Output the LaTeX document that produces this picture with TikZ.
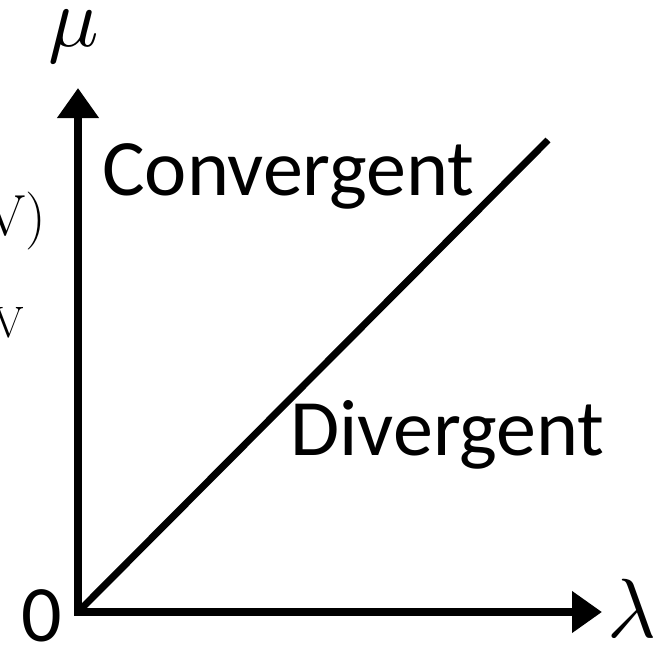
\documentclass[tikz,border=0pt]{standalone}
\usepackage{fontspec}
\newfontfamily\cfont{Carlito}
\usetikzlibrary{arrows.meta}
\tikzset{
  axis/.style={line width=8pt, line join=miter, {Triangle[length=30pt,width=40pt]}-{Triangle[length=30pt,width=40pt]}},
  diag/.style={line width=7pt},
  big/.style={inner sep=0pt, font=\cfont\fontsize{80}{90}\selectfont},
  mathlbl/.style={inner sep=0pt, scale=8.4},
  cutlbl/.style={inner sep=0pt}
}
\begin{document}
\begin{tikzpicture}[x=1pt,y=-1pt]
\useasboundingbox (0,0) rectangle (661,648);
\clip (0,0) rectangle (661,648);
\coordinate (O) at (78,612);
\coordinate (Ytip) at (78,88);
\coordinate (Xtip) at (602,612);
\coordinate (Dend) at (548,140);
\draw[axis] (Ytip) -- (O) -- (Xtip);
\draw[diag] (O) -- (Dend);
\node[big, anchor=base west] (conv) at (102,195) {Convergent};
\node[big, anchor=base west] (div) at (290,455) {Divergent};
\node[big, anchor=base west] (zero) at (21,641) {0};
\node[mathlbl] (mu) at (74,37) {$\mu$};
\node[mathlbl] (lam) at (632,608) {$\lambda$};
\node[cutlbl, anchor=base east, font=\fontsize{58}{60}\selectfont] (v1) at (46,235) {(V)};
\node[cutlbl, anchor=base east, font=\fontsize{44}{48}\selectfont] (v2) at (24,337) {V};
\end{tikzpicture}
\end{document}
